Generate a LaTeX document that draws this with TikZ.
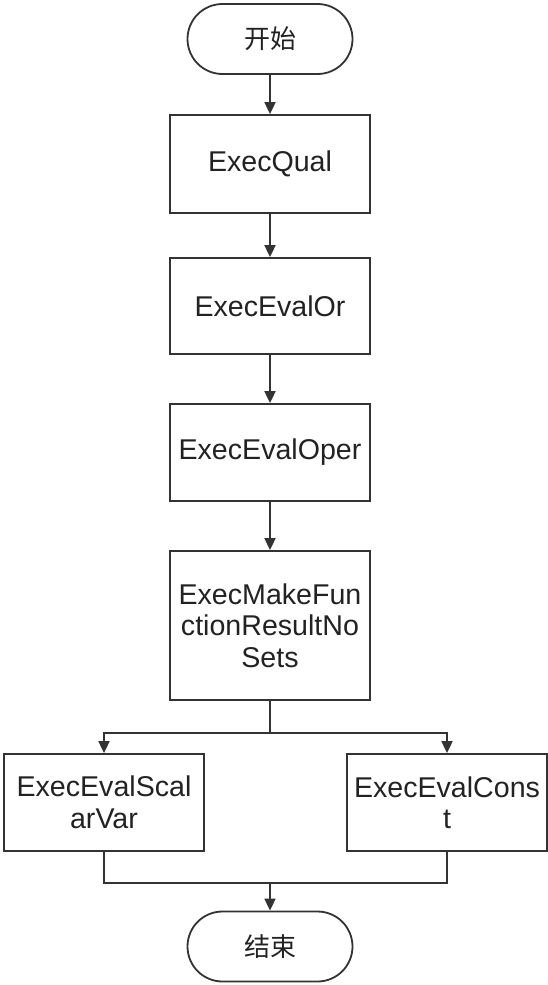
\documentclass[tikz,border=0pt]{standalone}
\usepackage{fontspec}
\setmainfont{Liberation Sans}
\newfontfamily\cjk{Noto Sans CJK SC}
\usetikzlibrary{arrows.meta,shapes.misc}
\definecolor{linec}{HTML}{333333}
\definecolor{textc}{HTML}{222222}
\begin{document}
\begin{tikzpicture}[x=1pt,y=-1pt,line width=1.8pt]
\tikzset{
  box/.style={draw=linec, rectangle, minimum width=200pt, minimum height=97pt, inner sep=0pt, align=center, text=textc, font=\fontsize{28.6}{31.5}\selectfont},
  term/.style={draw=linec, rounded rectangle, minimum width=165pt, minimum height=70pt, inner sep=0pt, text=textc, font=\cjk\fontsize{26}{30}\selectfont},
  conn/.style={draw=linec},
  arr/.style={draw=linec, -{Triangle[width=11pt,length=12pt]}}
}
\useasboundingbox (0,0) rectangle (548,985);
\node[term] (start) at (270,39) {开始};
\node[box, minimum height=98pt] (q) at (270,164) {ExecQual};
\node[box, minimum height=96pt] (or) at (270,306) {ExecEvalOr};
\node[box] (oper) at (270,452.5) {ExecEvalOper};
\node[box, minimum height=149pt] (make) at (270,625.5) {ExecMakeFun\\ctionResultNo\\Sets};
\node[box] (sv) at (104,802.5) {ExecEvalScal\\arVar};
\node[box] (sc) at (447,802.5) {ExecEvalCons\\t};
\node[term] (end) at (270,946.5) {结束};
\coordinate (j1) at (270,733);
\coordinate (j2) at (270,883);
\draw[arr] (start) -- (q);
\draw[arr] (q) -- (or);
\draw[arr] (or) -- (oper);
\draw[arr] (oper) -- (make);
\draw[conn] (make.south) -- (j1);
\draw[arr] (j1) -| (sv.north);
\draw[arr] (j1) -| (sc.north);
\draw[conn] (sv.south) |- (j2);
\draw[conn] (sc.south) |- (j2);
\draw[arr] (j2) -- (end);
\end{tikzpicture}
\end{document}
